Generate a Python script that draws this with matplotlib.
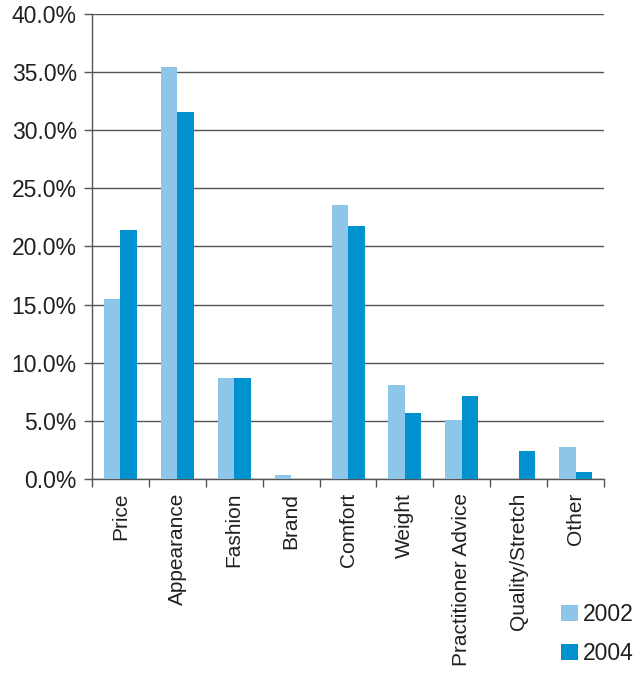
import numpy as np
from matplotlib import pyplot as plt
from matplotlib.ticker import FuncFormatter, MultipleLocator

categories = ['Price', 'Appearance', 'Fashion', 'Brand', 'Comfort', 'Weight',
              'Practitioner Advice', 'Quality/Stretch', 'Other']
values_2002 = [15.5, 35.4, 8.7, 0.3, 23.6, 8.1, 5.1, 0.0, 2.75]
values_2004 = [21.4, 31.6, 8.7, 0.0, 21.8, 5.7, 7.1, 2.4, 0.6]
years = ['2002', '2004']

plt.rcParams['font.family'] = ['Liberation Sans', 'DejaVu Sans']
text_color = '#231f20'

fig = plt.figure(figsize=(6.36, 6.87), dpi=100)
ax = fig.add_axes([0.1447, 0.3028, 0.805, 0.6768])

x = np.arange(len(categories))
w = 0.29
ax.bar(x - w / 2, values_2002, w, color='#8dc6e8', label=years[0], zorder=3)
ax.bar(x + w / 2, values_2004, w, color='#0091cf', label=years[1], zorder=3)

ax.set_xlim(-0.5, len(categories) - 0.5)
ax.set_ylim(0, 40)
ax.yaxis.set_major_locator(MultipleLocator(5))
ax.yaxis.set_major_formatter(FuncFormatter(lambda v, p: '{:.1f}%'.format(v)))
ax.grid(axis='y', color='#555555', linewidth=1.0, zorder=0)

ax.set_xticks(x)
ax.set_xticklabels(categories, rotation=90, fontsize=15, color=text_color)
ax.set_xticks(np.arange(len(categories) + 1) - 0.5, minor=True)
ax.tick_params(axis='x', which='major', length=0, pad=10)
ax.tick_params(axis='x', which='minor', length=6, width=1, color='#555555')
ax.tick_params(axis='y', length=6, width=1, color='#555555', labelsize=16.5,
               labelcolor=text_color, pad=5)

for side in ['top', 'right']:
    ax.spines[side].set_visible(False)
for side in ['left', 'bottom']:
    ax.spines[side].set_color('#555555')
    ax.spines[side].set_linewidth(1.0)

leg = fig.legend(loc='upper left', bbox_to_anchor=(561 / 636, 1 - 603 / 687),
                 frameon=False, fontsize=16.5, handlelength=0.72, handleheight=0.68,
                 handletextpad=0.25, labelspacing=0.7, borderpad=0,
                 borderaxespad=0)
for t in leg.get_texts():
    t.set_color(text_color)

fig.savefig('out.png', dpi=100)
